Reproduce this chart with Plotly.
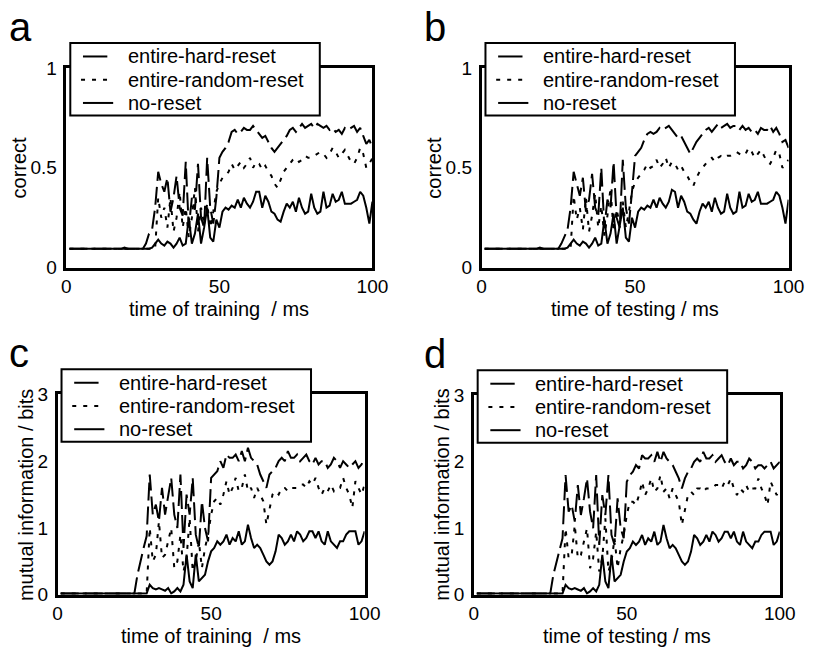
import plotly.graph_objects as go

W, H = 826, 660

t_ms = list(range(1, 101))

# ---- panel a: correct vs time of training ----
hard_a = [0.094, 0.094, 0.094, 0.094, 0.094, 0.094, 0.094, 0.094, 0.094, 0.094,
          0.094, 0.094, 0.094, 0.094, 0.094, 0.094, 0.094, 0.094, 0.094, 0.094,
          0.094, 0.094, 0.094, 0.094, 0.094,
          0.12, 0.17, 0.19, 0.30, 0.48, 0.42, 0.38, 0.45, 0.28, 0.35,
          0.46, 0.30, 0.26, 0.53, 0.20, 0.35, 0.29, 0.52, 0.25, 0.20,
          0.55, 0.30, 0.22, 0.35, 0.55,
          0.58, 0.60, 0.63, 0.68, 0.69, 0.67, 0.68, 0.70, 0.69, 0.69,
          0.71, 0.69, 0.67, 0.65, 0.66, 0.63, 0.60, 0.58, 0.60, 0.62,
          0.64, 0.66, 0.69, 0.70, 0.68,
          0.70, 0.72, 0.70, 0.71, 0.72, 0.70, 0.72, 0.71, 0.70, 0.71,
          0.69, 0.70, 0.68, 0.69, 0.67, 0.70, 0.69, 0.70, 0.71, 0.68,
          0.70, 0.66, 0.62, 0.64, 0.60]
rand_a = [0.094, 0.094, 0.094, 0.094, 0.094, 0.094, 0.094, 0.094, 0.094, 0.094,
          0.094, 0.094, 0.094, 0.094, 0.094, 0.094, 0.094, 0.094, 0.094, 0.094,
          0.094, 0.094, 0.094, 0.094, 0.094, 0.094, 0.094, 0.094, 0.094,
          0.35, 0.25, 0.30, 0.20, 0.35, 0.18, 0.25, 0.38, 0.20, 0.30,
          0.15, 0.25, 0.40, 0.18, 0.30, 0.22, 0.32, 0.20, 0.28, 0.38, 0.42,
          0.45, 0.46, 0.48, 0.52, 0.49, 0.51, 0.53, 0.50, 0.52, 0.55,
          0.50, 0.53, 0.52, 0.49, 0.51, 0.48, 0.46, 0.42, 0.40, 0.44,
          0.48, 0.50, 0.52, 0.54, 0.55,
          0.53, 0.54, 0.56, 0.55, 0.55, 0.56, 0.57, 0.58, 0.57, 0.55,
          0.57, 0.60, 0.58, 0.55, 0.57, 0.59, 0.56, 0.53, 0.52, 0.55,
          0.60, 0.57, 0.50, 0.52, 0.55]
none_a = [0.094, 0.094, 0.094, 0.094, 0.094, 0.094, 0.094, 0.094, 0.094, 0.094,
          0.094, 0.094, 0.094, 0.094, 0.094, 0.094, 0.094, 0.094, 0.100, 0.094,
          0.094, 0.094, 0.094, 0.094, 0.094, 0.094, 0.094,
          0.10, 0.12, 0.14, 0.12, 0.11, 0.13, 0.12, 0.10, 0.12, 0.15,
          0.11, 0.12, 0.25, 0.12, 0.17, 0.27, 0.12, 0.20, 0.30, 0.15,
          0.13, 0.24, 0.20,
          0.28, 0.30, 0.29, 0.31, 0.30, 0.34, 0.30, 0.35, 0.32, 0.30,
          0.33, 0.38, 0.38, 0.30, 0.36, 0.33, 0.28, 0.27, 0.24, 0.23,
          0.28, 0.32, 0.30, 0.33, 0.28,
          0.35, 0.30, 0.27, 0.28, 0.37, 0.30, 0.27, 0.28, 0.38, 0.30,
          0.31, 0.37, 0.33, 0.34, 0.38, 0.32, 0.32, 0.32, 0.33, 0.34,
          0.38, 0.36, 0.30, 0.22, 0.33]

# ---- panel b: correct vs time of testing ----
hard_b = [0.094, 0.094, 0.094, 0.094, 0.094, 0.094, 0.094, 0.094, 0.094, 0.094,
          0.094, 0.094, 0.094, 0.094, 0.094, 0.094, 0.094, 0.094, 0.094, 0.094,
          0.094, 0.094, 0.094, 0.094, 0.094,
          0.12, 0.16, 0.19, 0.30, 0.48, 0.42, 0.36, 0.45, 0.28, 0.34,
          0.47, 0.30, 0.26, 0.50, 0.20, 0.34, 0.30, 0.53, 0.25, 0.20,
          0.54, 0.30, 0.22, 0.38, 0.56,
          0.58, 0.60, 0.64, 0.67, 0.68, 0.67, 0.68, 0.70, 0.69, 0.70,
          0.71, 0.69, 0.67, 0.65, 0.66, 0.63, 0.60, 0.57, 0.60, 0.63,
          0.65, 0.67, 0.69, 0.70, 0.68,
          0.70, 0.72, 0.70, 0.71, 0.72, 0.70, 0.71, 0.71, 0.69, 0.71,
          0.69, 0.70, 0.68, 0.69, 0.67, 0.70, 0.69, 0.69, 0.71, 0.68,
          0.70, 0.67, 0.63, 0.64, 0.60]
rand_b = [0.094, 0.094, 0.094, 0.094, 0.094, 0.094, 0.094, 0.094, 0.094, 0.094,
          0.094, 0.094, 0.094, 0.094, 0.094, 0.094, 0.094, 0.094, 0.094, 0.094,
          0.094, 0.094, 0.094, 0.094, 0.094, 0.094, 0.094, 0.094, 0.094,
          0.36, 0.24, 0.30, 0.19, 0.35, 0.18, 0.26, 0.37, 0.20, 0.31,
          0.16, 0.26, 0.40, 0.18, 0.29, 0.22, 0.33, 0.20, 0.28, 0.38, 0.43,
          0.45, 0.47, 0.49, 0.52, 0.50, 0.51, 0.54, 0.50, 0.52, 0.55,
          0.50, 0.53, 0.52, 0.49, 0.51, 0.48, 0.46, 0.43, 0.41, 0.45,
          0.48, 0.50, 0.52, 0.54, 0.55,
          0.53, 0.55, 0.56, 0.55, 0.56, 0.56, 0.57, 0.58, 0.57, 0.56,
          0.57, 0.60, 0.58, 0.55, 0.57, 0.59, 0.56, 0.53, 0.52, 0.55,
          0.59, 0.57, 0.50, 0.52, 0.54]
none_b = [0.094, 0.094, 0.094, 0.094, 0.094, 0.094, 0.094, 0.094, 0.094, 0.094,
          0.094, 0.094, 0.094, 0.094, 0.094, 0.094, 0.094, 0.094, 0.100, 0.094,
          0.094, 0.094, 0.094, 0.094, 0.094, 0.094, 0.094,
          0.10, 0.12, 0.14, 0.12, 0.11, 0.13, 0.12, 0.10, 0.12, 0.15,
          0.11, 0.12, 0.24, 0.12, 0.17, 0.27, 0.12, 0.21, 0.30, 0.15,
          0.13, 0.25, 0.20,
          0.28, 0.30, 0.29, 0.31, 0.30, 0.34, 0.30, 0.35, 0.32, 0.30,
          0.33, 0.39, 0.38, 0.30, 0.36, 0.33, 0.28, 0.27, 0.24, 0.22,
          0.28, 0.32, 0.30, 0.33, 0.28,
          0.35, 0.30, 0.27, 0.28, 0.37, 0.30, 0.27, 0.28, 0.38, 0.30,
          0.31, 0.37, 0.33, 0.34, 0.38, 0.32, 0.32, 0.32, 0.33, 0.34,
          0.38, 0.36, 0.30, 0.22, 0.34]

# ---- panel c: mutual information vs time of training ----
hard_c = [0.02, 0.02, 0.02, 0.02, 0.02, 0.02, 0.02, 0.02, 0.02, 0.02,
          0.02, 0.02, 0.02, 0.02, 0.02, 0.02, 0.02, 0.02, 0.02, 0.02,
          0.02, 0.02, 0.02, 0.02, 0.02,
          0.30, 0.52, 0.70, 0.88, 1.80, 1.20, 1.35, 1.10, 1.60, 1.20,
          1.50, 1.75, 1.20, 1.00, 1.80, 0.70, 1.50, 1.20, 1.75, 0.90,
          0.70, 1.40, 1.00, 0.80, 1.75,
          1.80, 1.85, 2.00, 1.90, 2.10, 2.05, 2.05, 2.10, 2.00, 2.15,
          2.00, 2.20, 2.05, 2.00, 1.95, 1.80, 1.70, 1.60, 1.80, 1.85,
          1.90, 2.00, 2.05, 2.00, 2.15,
          2.05, 2.05, 2.10, 2.00, 2.05, 2.10, 2.00, 1.95, 2.05, 1.95,
          2.00, 2.00, 1.90, 1.95, 2.05, 2.00, 1.90, 2.00, 1.95, 1.90,
          1.95, 2.00, 1.90, 1.95, 2.05]
rand_c = [0.02, 0.02, 0.02, 0.02, 0.02, 0.02, 0.02, 0.02, 0.02, 0.02,
          0.02, 0.02, 0.02, 0.02, 0.02, 0.02, 0.02, 0.02, 0.02, 0.02,
          0.02, 0.02, 0.02, 0.02, 0.02, 0.02, 0.02, 0.02, 0.02,
          1.00, 0.50, 0.60, 1.10, 0.55, 0.60, 0.80, 1.00, 0.40, 0.50,
          0.90, 0.35, 0.55, 1.15, 0.35, 0.50, 0.80, 0.40, 0.70, 0.90, 1.20,
          1.40, 1.45, 1.35, 1.50, 1.70, 1.50, 1.60, 1.75, 1.55, 1.60,
          1.80, 1.55, 1.60, 1.45, 1.60, 1.50, 1.40, 1.05, 1.25, 1.50,
          1.55, 1.50, 1.60, 1.60, 1.55,
          1.60, 1.60, 1.60, 1.65, 1.65, 1.60, 1.70, 1.65, 1.75, 1.60,
          1.50, 1.60, 1.55, 1.65, 1.55, 1.60, 1.60, 1.75, 1.60, 1.50,
          1.30, 1.70, 1.60, 1.50, 1.65]
none_c = [0.02, 0.02, 0.02, 0.02, 0.02, 0.02, 0.02, 0.02, 0.02, 0.02,
          0.02, 0.02, 0.02, 0.02, 0.02, 0.02, 0.02, 0.02, 0.03, 0.02,
          0.02, 0.02, 0.02, 0.02, 0.02, 0.02, 0.02, 0.02, 0.02,
          0.15, 0.10, 0.08, 0.10, 0.08, 0.06, 0.10, 0.02, 0.05, 0.10,
          0.05, 0.15, 0.60, 0.20, 0.10, 0.60, 0.20, 0.25, 0.30, 0.50, 0.65,
          0.70, 0.80, 0.75, 0.80, 0.90, 0.75, 0.85, 0.80, 0.95, 0.75,
          0.80, 1.05, 0.85, 0.70, 0.75, 0.70, 0.60, 0.50, 0.45, 0.50,
          0.65, 0.90, 0.85, 0.75, 0.80,
          0.90, 0.80, 0.95, 0.90, 0.80, 0.85, 0.95, 0.95, 0.85, 0.95,
          0.80, 0.75, 0.95, 0.80, 0.75, 0.70, 0.80, 0.80, 0.90, 0.95,
          0.95, 0.95, 0.75, 0.80, 0.95]

# ---- panel d: mutual information vs time of testing ----
hard_d = [0.02, 0.02, 0.02, 0.02, 0.02, 0.02, 0.02, 0.02, 0.02, 0.02,
          0.02, 0.02, 0.02, 0.02, 0.02, 0.02, 0.02, 0.02, 0.02, 0.02,
          0.02, 0.02, 0.02, 0.02, 0.02,
          0.30, 0.50, 0.68, 0.85, 1.80, 1.25, 1.35, 1.10, 1.65, 1.20,
          1.45, 1.75, 1.25, 1.00, 1.80, 0.75, 1.50, 1.20, 1.80, 0.90,
          0.75, 1.45, 1.00, 0.85, 1.70,
          1.80, 1.85, 1.95, 1.90, 2.10, 2.05, 2.05, 2.10, 2.00, 2.15,
          2.00, 2.15, 2.05, 2.00, 1.95, 1.85, 1.75, 1.60, 1.75, 1.85,
          1.90, 2.00, 2.05, 2.00, 2.15,
          2.05, 2.05, 2.10, 2.00, 2.05, 2.10, 2.00, 1.95, 2.05, 1.95,
          2.00, 2.00, 1.90, 1.95, 2.05, 2.00, 1.90, 1.95, 1.95, 1.90,
          1.95, 2.00, 1.90, 1.95, 2.00]
rand_d = [0.02, 0.02, 0.02, 0.02, 0.02, 0.02, 0.02, 0.02, 0.02, 0.02,
          0.02, 0.02, 0.02, 0.02, 0.02, 0.02, 0.02, 0.02, 0.02, 0.02,
          0.02, 0.02, 0.02, 0.02, 0.02, 0.02, 0.02, 0.02, 0.02,
          1.00, 0.55, 0.60, 1.05, 0.55, 0.60, 0.80, 1.00, 0.40, 0.55,
          0.95, 0.35, 0.55, 1.15, 0.35, 0.50, 0.85, 0.40, 0.70, 0.90, 1.20,
          1.40, 1.40, 1.35, 1.50, 1.70, 1.50, 1.60, 1.75, 1.55, 1.60,
          1.80, 1.55, 1.60, 1.45, 1.60, 1.50, 1.40, 1.05, 1.25, 1.50,
          1.55, 1.50, 1.60, 1.60, 1.55,
          1.60, 1.60, 1.60, 1.65, 1.65, 1.60, 1.70, 1.65, 1.75, 1.60,
          1.50, 1.60, 1.55, 1.65, 1.55, 1.60, 1.60, 1.75, 1.60, 1.50,
          1.35, 1.70, 1.60, 1.50, 1.60]
none_d = [0.02, 0.02, 0.02, 0.02, 0.02, 0.02, 0.02, 0.02, 0.02, 0.02,
          0.02, 0.02, 0.02, 0.02, 0.02, 0.02, 0.02, 0.02, 0.03, 0.02,
          0.02, 0.02, 0.02, 0.02, 0.02, 0.02, 0.02, 0.02, 0.02,
          0.15, 0.10, 0.08, 0.10, 0.08, 0.06, 0.10, 0.02, 0.05, 0.10,
          0.05, 0.15, 0.60, 0.20, 0.10, 0.60, 0.20, 0.25, 0.30, 0.50, 0.65,
          0.70, 0.80, 0.75, 0.80, 0.90, 0.75, 0.85, 0.80, 0.95, 0.75,
          0.80, 1.05, 0.85, 0.70, 0.75, 0.70, 0.60, 0.50, 0.45, 0.50,
          0.65, 0.90, 0.85, 0.75, 0.80,
          0.90, 0.80, 0.95, 0.90, 0.80, 0.85, 0.95, 0.95, 0.85, 0.95,
          0.80, 0.75, 0.95, 0.80, 0.75, 0.70, 0.80, 0.80, 0.90, 0.95,
          0.95, 0.95, 0.75, 0.80, 0.95]

series_names = ["entire-hard-reset", "entire-random-reset", "no-reset"]
panel_letters = ["a", "b", "c", "d"]
x_titles = ["time of training  / ms", "time of testing / ms",
            "time of training  / ms", "time of testing / ms"]
y_titles = ["correct", "correct", "mutual information / bits", "mutual information / bits"]
x_ticks = [0, 50, 100]
y_ticks_correct = [0, 0.5, 1]
y_ticklabels_correct = ["0", "0.5", "1"]
y_ticks_mi = [0, 1, 2, 3]
y_ticklabels_mi = ["0", "1", "2", "3"]

panel_data = [
    (hard_a, rand_a, none_a),
    (hard_b, rand_b, none_b),
    (hard_c, rand_c, none_c),
    (hard_d, rand_d, none_d),
]

# pixel boxes of the axes: (left, right, top, bottom)
boxes = [(63, 377, 60, 266), (489, 804, 60, 266),
         (54, 369, 397, 604), (481, 795, 398, 604)]
letter_x = [2, 428, 2, 428]

FONT = "Liberation Sans, Arial, Helvetica, sans-serif"
DASH_HARD = "18px,6px"
DASH_RAND = "4px,7px"
LW = 2


def px(x):
    return x / W


def py(y):
    return 1 - y / H


fig = go.Figure()
shapes = []
annotations = []
layout = {}

for i in range(4):
    ax = "" if i == 0 else str(i + 1)
    xa, ya = "x" + ax, "y" + ax
    hard, rand, none_ = panel_data[i]
    for vals, dash in ((hard, DASH_HARD), (rand, DASH_RAND), (none_, "solid")):
        fig.add_trace(go.Scatter(x=t_ms, y=vals, mode="lines", xaxis=xa, yaxis=ya,
                                 line=dict(color="black", width=LW, dash=dash),
                                 showlegend=False, hoverinfo="skip"))
    L, R, T, B = boxes[i]
    is_mi = i >= 2
    layout["xaxis" + ax] = dict(
        domain=[px(L), px(R)], anchor=ya, range=[0, 100],
        tickvals=x_ticks, ticktext=[str(v) for v in x_ticks],
        showgrid=False, zeroline=False, showline=True, mirror=True,
        linecolor="black", linewidth=2.5, ticks="", ticklen=0, ticklabelstandoff=0,
        tickfont=dict(size=19, color="black", family=FONT))
    layout["yaxis" + ax] = dict(
        domain=[py(B), py(T)], anchor=xa, range=[0, 3] if is_mi else [0, 1],
        tickvals=y_ticks_mi if is_mi else y_ticks_correct,
        ticktext=y_ticklabels_mi if is_mi else y_ticklabels_correct,
        showgrid=False, zeroline=False, showline=True, mirror=True,
        linecolor="black", linewidth=2.5, ticks="", ticklen=0, ticklabelstandoff=3,
        tickfont=dict(size=19, color="black", family=FONT))

    # panel letter
    annotations.append(dict(text=panel_letters[i], xref="paper", yref="paper",
                            x=px(letter_x[i]), y=py(T - 18), xanchor="left", yanchor="bottom",
                            showarrow=False, font=dict(size=40, color="black", family=FONT)))
    # axis titles
    annotations.append(dict(text=x_titles[i], xref="paper", yref="paper",
                            x=px((L + R) / 2), y=py(B + 43), xanchor="center", yanchor="middle",
                            showarrow=False, font=dict(size=20, color="black", family=FONT)))
    annotations.append(dict(text=y_titles[i], xref="paper", yref="paper",
                            x=px(L - (33 if is_mi else 49)), y=py((T + B) / 2), xanchor="center",
                            yanchor="middle", textangle=-90,
                            showarrow=False, font=dict(size=20, color="black", family=FONT)))
    # legend box
    shapes.append(dict(type="rect", xref="paper", yref="paper",
                       x0=px(L + 4), x1=px(L + 260), y0=py(T + 49), y1=py(T - 26),
                       line=dict(color="black", width=2), fillcolor="white", layer="above"))
    rows = [T - 12, T + 12, T + 36]
    samples = [(L + 17, L + 42, "solid"), (L + 15, L + 45, DASH_RAND), (L + 17, L + 48, "solid")]
    for (x0, x1, dash), yy, name in zip(samples, rows, series_names):
        shapes.append(dict(type="line", xref="paper", yref="paper",
                           x0=px(x0), x1=px(x1), y0=py(yy), y1=py(yy),
                           line=dict(color="black", width=LW, dash=dash), layer="above"))
        annotations.append(dict(text=name, xref="paper", yref="paper",
                                x=px(L + 61), y=py(yy), xanchor="left", yanchor="middle",
                                showarrow=False, font=dict(size=20, color="black", family=FONT)))

fig.update_layout(
    width=W, height=H, autosize=False,
    margin=dict(l=0, r=0, t=0, b=0),
    paper_bgcolor="white", plot_bgcolor="white",
    shapes=shapes, annotations=annotations, showlegend=False,
    **layout)

fig.write_html("out.html", config={"displayModeBar": False})
